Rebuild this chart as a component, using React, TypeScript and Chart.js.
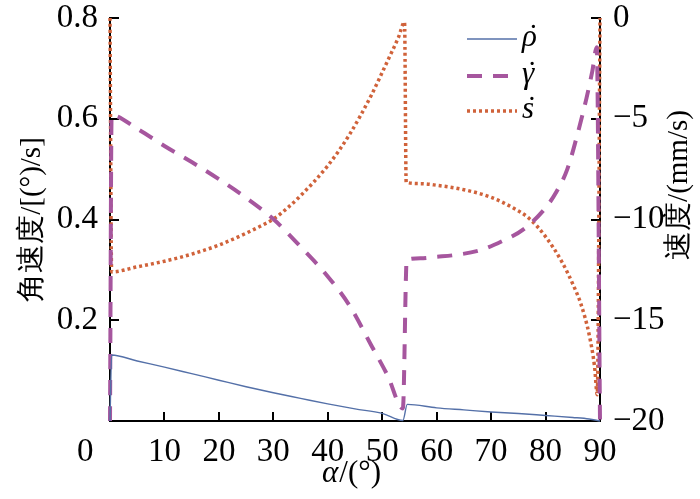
import { useEffect, useRef } from 'react';
import { Chart, registerables } from 'chart.js';

Chart.register(...registerables);

// ---- data ----
const alphaRho = [0, 0.3, 5, 10, 15, 20, 25, 30, 35, 40, 45, 50, 53.8, 54.6, 60, 65, 70, 75, 80, 85, 88, 90];
const rhoDot = [0, 0.131, 0.119, 0.107, 0.094, 0.081, 0.068, 0.056, 0.045, 0.034, 0.024, 0.015, 0.001, 0.033, 0.026, 0.022, 0.018, 0.015, 0.011, 0.007, 0.004, 0];

const alphaGamma = [0, 0.3, 5, 10, 15, 20, 25, 30, 35, 40, 44, 48, 51, 53.8, 54.5, 57, 60, 63, 68, 72, 76, 80, 82, 84, 86, 87.5, 88.6, 89.4, 90];
const gammaDot = [0, 0.607, 0.58, 0.546, 0.514, 0.48, 0.443, 0.401, 0.346, 0.287, 0.229, 0.15, 0.09, 0.025, 0.32, 0.323, 0.326, 0.329, 0.339, 0.357, 0.381, 0.423, 0.455, 0.5, 0.575, 0.64, 0.695, 0.742, 0];

const alphaS = [0, 0.3, 5, 10, 15, 20, 25, 27.5, 30, 32.5, 35, 40, 44, 48, 51, 53, 54.1, 54.4, 57, 60, 65, 70, 74, 77, 80, 83, 85, 86.5, 88, 89, 89.5, 90];
const sDot = [0, -12.6, -12.35, -12.07, -11.72, -11.27, -10.68, -10.35, -9.98, -9.45, -8.82, -7.33, -5.78, -3.83, -2.12, -0.95, -0.2, -8.15, -8.22, -8.3, -8.52, -8.9, -9.42, -9.95, -10.85, -12.1, -13.2, -14.2, -15.7, -17.3, -18.7, 0];

const xTicks = [0, 10, 20, 30, 40, 50, 60, 70, 80, 90];
const leftTicks = [0.2, 0.4, 0.6, 0.8];
const rightTicks = [0, -5, -10, -15, -20];
const legendBase = ['\u03C1', '\u03B3', 's'];
const legendAccent = '\u02D9';
const xTitleVar = '\u03B1';
const xTitleRest = '/(\u00B0)';
const leftTitle = '角速度/[(\u00B0)/s]';
const rightTitle = '速度/(mm/s)';

const SERIF = '"Liberation Serif"';

const inwardTicks = {
  id: 'inwardTicks',
  beforeDatasetsDraw(chart: any) {
    const { ctx, chartArea, scales } = chart;
    const { left, right, bottom } = chartArea;
    const len = 9;
    ctx.save();
    ctx.strokeStyle = '#000';
    ctx.lineWidth = 2;
    ctx.beginPath();
    xTicks.forEach((v) => {
      if (v === 0 || v === 90) return;
      const px = Math.round(scales.x.getPixelForValue(v));
      ctx.moveTo(px, bottom);
      ctx.lineTo(px, bottom - len);
    });
    leftTicks.forEach((v) => {
      const py = Math.round(scales.yL.getPixelForValue(v));
      ctx.moveTo(left, py);
      ctx.lineTo(left + len, py);
    });
    rightTicks.forEach((v) => {
      if (v === -20) return;
      const py = Math.round(scales.yR.getPixelForValue(v));
      ctx.moveTo(right, py);
      ctx.lineTo(right - len, py);
    });
    ctx.stroke();
    ctx.restore();
  },
};

const insideLegend = {
  id: 'insideLegend',
  afterDatasetsDraw(chart: any) {
    const { ctx, chartArea } = chart;
    const x0 = chartArea.right - 133;
    const x1 = chartArea.right - 83;
    const tx = chartArea.right - 78;
    const rows = [chartArea.top + 21, chartArea.top + 58, chartArea.top + 93];
    chart.data.datasets.forEach((ds: any, i: number) => {
      const y = rows[i];
      ctx.save();
      ctx.strokeStyle = ds.borderColor;
      ctx.lineWidth = ds.borderWidth;
      ctx.setLineDash(ds.borderDash || []);
      ctx.lineCap = 'butt';
      ctx.beginPath();
      ctx.moveTo(x0, y);
      ctx.lineTo(x1, y);
      ctx.stroke();
      ctx.setLineDash([]);
      ctx.fillStyle = '#000';
      ctx.font = 'italic 31px ' + SERIF;
      ctx.textAlign = 'left';
      ctx.textBaseline = 'alphabetic';
      const base = legendBase[i];
      const w = ctx.measureText(base).width;
      ctx.fillText(base, tx, y + 7);
      ctx.textAlign = 'center';
      ctx.fillText(legendAccent, tx + w / 2 + 2, y + 7);
      ctx.restore();
    });
  },
};

const axisTitles = {
  id: 'axisTitles',
  afterDraw(chart: any) {
    const { ctx, chartArea } = chart;
    ctx.save();
    ctx.fillStyle = '#000';
    // bottom title: italic alpha + upright rest
    const cx = (chartArea.left + chartArea.right) / 2 - 4;
    ctx.font = 'italic 31px ' + SERIF;
    const wa = ctx.measureText(xTitleVar).width;
    ctx.font = '31px ' + SERIF;
    const wr = ctx.measureText(xTitleRest).width;
    const start = cx - (wa + wr) / 2;
    ctx.textAlign = 'left';
    ctx.textBaseline = 'alphabetic';
    ctx.font = 'italic 31px ' + SERIF;
    ctx.fillText(xTitleVar, start, 482);
    ctx.font = '31px ' + SERIF;
    ctx.fillText(xTitleRest, start + wa + 1, 482);
    // right title: reads bottom-to-top like the left one
    ctx.translate(chartArea.right + 79, chartArea.top + 167);
    ctx.rotate(-Math.PI / 2);
    ctx.font = '29px ' + SERIF;
    ctx.textAlign = 'center';
    ctx.textBaseline = 'middle';
    ctx.fillText(rightTitle, 0, 0);
    ctx.restore();
  },
};

export default function App() {
  const ref = useRef<HTMLCanvasElement | null>(null);

  useEffect(() => {
    document.body.style.margin = '0';
    const canvas = ref.current;
    if (!canvas) return;
    const toPts = (xs: number[], ys: number[]) => xs.map((x, i) => ({ x, y: ys[i] }));
    const chart = new Chart(canvas, {
      type: 'line',
      data: {
        datasets: [
          {
            label: 'rho',
            data: toPts(alphaRho, rhoDot),
            yAxisID: 'yL',
            borderColor: '#5470a8',
            borderWidth: 1.4,
            pointRadius: 0,
            cubicInterpolationMode: 'monotone',
            clip: 6,
          },
          {
            label: 'gamma',
            data: toPts(alphaGamma, gammaDot),
            yAxisID: 'yL',
            borderColor: '#a6569e',
            borderWidth: 4,
            borderDash: [15, 11],
            borderJoinStyle: 'round',
            pointRadius: 0,
            cubicInterpolationMode: 'monotone',
            clip: 6,
          },
          {
            label: 's',
            data: toPts(alphaS, sDot),
            yAxisID: 'yR',
            borderColor: '#d0623a',
            borderWidth: 3.5,
            borderDash: [3, 3],
            borderJoinStyle: 'round',
            pointRadius: 0,
            cubicInterpolationMode: 'monotone',
            clip: 6,
          },
        ] as any,
      },
      options: {
        animation: false,
        responsive: false,
        layout: { padding: { top: 18, left: 0, right: 0, bottom: 0 } },
        plugins: {
          legend: { display: false },
          tooltip: { enabled: false },
        },
        scales: {
          x: {
            type: 'linear',
            position: 'bottom',
            min: 0,
            max: 90,
            afterBuildTicks: (s: any) => {
              s.ticks = xTicks.map((v) => ({ value: v }));
            },
            afterFit: (s: any) => {
              s.height = 78;
              s.paddingLeft = 0;
              s.paddingRight = 0;
            },
            grid: { display: false, drawTicks: false },
            border: { display: true, color: '#000', width: 2 },
            ticks: {
              color: '#000',
              font: { family: SERIF, size: 33 },
              padding: 12,
              maxRotation: 0,
              autoSkip: false,
              callback: (v: any) => (Number(v) === 0 ? '0\u2003\u2002' : String(v)),
            },
            title: { display: false },
          },
          yL: {
            type: 'linear',
            position: 'left',
            min: 0,
            max: 0.8,
            afterBuildTicks: (s: any) => {
              s.ticks = leftTicks.map((v) => ({ value: v }));
            },
            afterFit: (s: any) => {
              s.width = 110;
              s.paddingTop = 0;
              s.paddingBottom = 0;
            },
            grid: { display: false, drawTicks: false },
            border: { display: true, color: '#000', width: 2 },
            ticks: {
              color: '#000',
              font: { family: SERIF, size: 33 },
              padding: 12,
              callback: (v: any) => Number(v).toFixed(1),
            },
            title: {
              display: true,
              text: leftTitle,
              color: '#000',
              font: { family: SERIF, size: 29 },
              padding: { top: 15, bottom: 0 },
            },
          },
          yR: {
            type: 'linear',
            position: 'right',
            min: -20,
            max: 0,
            afterBuildTicks: (s: any) => {
              s.ticks = rightTicks.map((v) => ({ value: v }));
            },
            afterFit: (s: any) => {
              s.width = 100;
              s.paddingTop = 0;
              s.paddingBottom = 0;
            },
            grid: { display: false, drawTicks: false },
            border: { display: true, color: '#000', width: 2 },
            ticks: {
              color: '#000',
              font: { family: SERIF, size: 33 },
              padding: 13,
              callback: (v: any) => (Number(v) < 0 ? '\u2212' + Math.abs(Number(v)) : String(v)),
            },
            title: { display: false },
          },
        },
      } as any,
      plugins: [inwardTicks, insideLegend, axisTitles],
    });
    return () => chart.destroy();
  }, []);

  return <canvas ref={ref} width={700} height={499} style={{ display: 'block' }} />;
}
